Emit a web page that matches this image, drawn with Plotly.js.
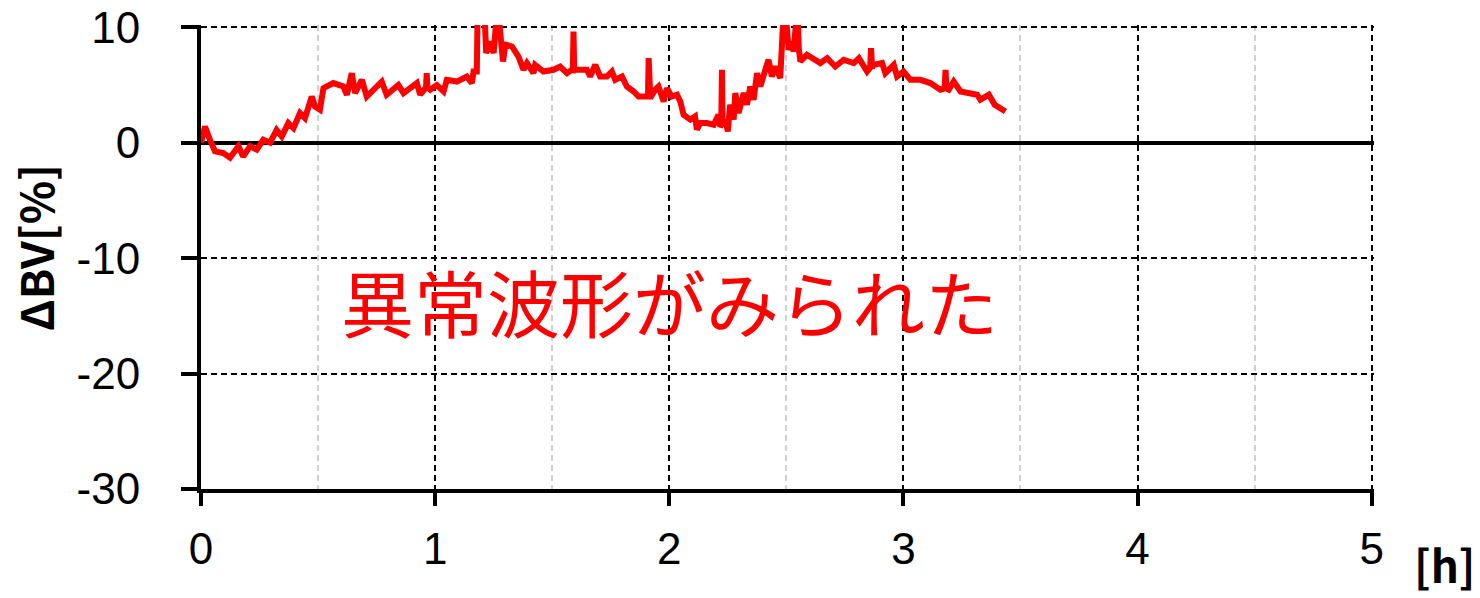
<!DOCTYPE html>
<html>
<head>
<meta charset="utf-8">
<script src="https://cdn.plot.ly/plotly-3.0.1.min.js"></script>
<style>
  html, body { margin: 0; padding: 0; background: #fff; }
  #chart { width: 1480px; height: 598px; }
</style>
</head>
<body>
<div id="chart"></div>
<script>
// elapsed time [h]
var hours = [
  0, 0.017, 0.038, 0.06, 0.095, 0.124, 0.16, 0.18, 0.21, 0.238,
  0.266, 0.295, 0.323, 0.345, 0.373, 0.395, 0.423, 0.444, 0.473, 0.487,
  0.508, 0.523, 0.565, 0.608, 0.623, 0.644, 0.658, 0.687, 0.708, 0.736,
  0.772, 0.793, 0.843, 0.865, 0.922, 0.936, 0.961, 0.964, 0.967, 0.979,
  1.007, 1.036, 1.05, 1.093, 1.135, 1.157, 1.164, 1.178, 1.181, 1.212,
  1.218, 1.235, 1.25, 1.262, 1.272, 1.29, 1.3, 1.328, 1.356, 1.377,
  1.392, 1.42, 1.427, 1.463, 1.506, 1.534, 1.563, 1.584, 1.588, 1.591,
  1.594, 1.605, 1.648, 1.662, 1.684, 1.705, 1.734, 1.755, 1.769, 1.798,
  1.819, 1.848, 1.869, 1.897, 1.909, 1.912, 1.915, 1.919, 1.94, 1.954,
  1.976, 1.99, 2.01, 2.033, 2.047, 2.061, 2.09, 2.11, 2.118, 2.132,
  2.16, 2.19, 2.21, 2.218, 2.222, 2.225, 2.228, 2.24, 2.25, 2.26,
  2.275, 2.282, 2.296, 2.318, 2.332, 2.346, 2.36, 2.375, 2.389, 2.41,
  2.424, 2.438, 2.453, 2.474, 2.482, 2.487, 2.499, 2.51, 2.524, 2.531,
  2.543, 2.549, 2.553, 2.56, 2.588, 2.617, 2.645, 2.674, 2.709, 2.745,
  2.788, 2.81, 2.845, 2.858, 2.862, 2.866, 2.873, 2.909, 2.923, 2.959,
  2.973, 3.001, 3.03, 3.073, 3.115, 3.158, 3.176, 3.18, 3.184, 3.194,
  3.215, 3.244, 3.286, 3.315, 3.329, 3.365, 3.39, 3.415, 3.436
];

// ΔBV [%] (values above 10 are cut off by the axis range)
var dbv = [
  0, 1.4, 0.26, -0.75, -0.9, -1.3, -0.3, -1.2, -0.3, -0.6,
  0.26, 0, 1.1, 0.55, 1.7, 1.27, 2.57, 2.14, 4.0, 3.14,
  2.86, 4.73, 5.17, 4.87, 4.16, 6.03, 4.3, 5.45, 4.0, 4.6,
  5.3, 4.16, 5.0, 4.3, 5.17, 4.16, 4.8, 6.03, 4.8, 4.6,
  5.0, 4.44, 5.45, 5.3, 5.74, 5.17, 6.17, 6.17, 10.8, 10.8,
  7.77, 8.77, 7.77, 10.8, 10.8, 7.04, 8.5, 8.34, 7.47, 6.32,
  6.9, 6.03, 6.75, 6.17, 6.32, 6.6, 6.03, 6.32, 6.3, 9.64,
  6.3, 6.32, 6.32, 5.74, 6.75, 5.74, 5.74, 6.17, 5.45, 5.74,
  4.87, 4.44, 4.0, 4.0, 4.0, 7.33, 4.0, 3.87, 4.6, 4.87,
  3.58, 4.73, 4.0, 4.16, 3.58, 2.42, 2.0, 2.28, 1.13, 1.7,
  1.7, 1.56, 2.42, 1.41, 1.5, 6.32, 1.5, 2.0, 0.98, 3.29,
  2.0, 4.3, 2.57, 4.3, 3.29, 4.87, 3.72, 6.03, 4.87, 6.32,
  7.19, 5.74, 6.6, 5.6, 8.9, 10.8, 10.8, 8.05, 8.77, 7.9,
  10.8, 10.8, 8.2, 7.04, 7.62, 7.19, 6.9, 7.33, 6.6, 7.19,
  6.9, 7.33, 6.17, 6.5, 8.2, 6.5, 6.75, 6.9, 6.03, 6.75,
  5.74, 6.17, 5.45, 5.45, 5.17, 4.6, 4.7, 6.32, 4.7, 4.6,
  5.3, 4.44, 4.3, 4.16, 3.72, 4.16, 3.29, 3.0, 2.71
];

var xTicks = [0, 1, 2, 3, 4, 5];
var yTicks = [-30, -20, -10, 0, 10];
var note = '異常波形がみられた';

var fontFamily = '"Noto Sans CJK JP", "Noto Sans", sans-serif';
var tickFamily = '"Liberation Sans", sans-serif';

var trace = {
    x: hours,
    y: dbv,
    type: 'scatter',
    mode: 'lines',
    line: {color: '#ff0000', width: 6},
    hoverinfo: 'skip',
    showlegend: false
};

var layout = {
    width: 1480,
    height: 598,
    // ranges overshoot a little so the gridlines at x=5 and y=10 are kept
    margin: {l: 201, r: 106, t: 25, b: 109, pad: 0},
    paper_bgcolor: '#ffffff',
    plot_bgcolor: '#ffffff',
    font: {family: fontFamily, color: '#000000', size: 44},
    xaxis: {
        range: [0, 5.01],
        tickmode: 'array',
        tickvals: xTicks,
        ticktext: xTicks.map(String),
        tickfont: {family: tickFamily, size: 44, color: '#000000'},
        showline: true,
        linecolor: '#000000',
        linewidth: 4,
        ticks: 'outside',
        ticklen: 13,
        tickwidth: 4,
        tickcolor: '#000000',
        ticklabelstandoff: 5,
        ticklabeloverflow: 'allow',
        showgrid: true,
        gridcolor: '#000000',
        gridwidth: 2,
        griddash: '6px,4px',
        zeroline: false,
        minor: {
            dtick: 0.5,
            showgrid: true,
            gridcolor: '#d0d0d0',
            gridwidth: 2,
            griddash: '6px,4px',
            ticks: ''
        },
        fixedrange: true
    },
    yaxis: {
        range: [-30, 10.2],
        tickmode: 'array',
        tickvals: yTicks,
        ticktext: yTicks.map(String),
        tickfont: {family: tickFamily, size: 44, color: '#000000'},
        showline: true,
        linecolor: '#000000',
        linewidth: 4,
        ticks: 'outside',
        ticklen: 16,
        tickwidth: 4,
        tickcolor: '#000000',
        ticklabelstandoff: 32,
        ticklabeloverflow: 'allow',
        showgrid: true,
        gridcolor: '#000000',
        gridwidth: 2,
        griddash: '6px,4px',
        zeroline: true,
        zerolinecolor: '#000000',
        zerolinewidth: 4,
        fixedrange: true
    },
    annotations: [
        {
            x: 2.0, y: -13.6, xref: 'x', yref: 'y',
            text: note, showarrow: false,
            xanchor: 'center', yanchor: 'middle',
            font: {family: fontFamily, size: 73, color: '#ff0000'}
        },
        {
            x: -0.142, y: 0.52, xref: 'paper', yref: 'paper',
            text: '<b>ΔBV[%]</b>', showarrow: false, textangle: -90,
            xanchor: 'center', yanchor: 'middle',
            font: {family: fontFamily, size: 45, color: '#000000'}
        },
        {
            x: 1.06, y: -0.235, xref: 'paper', yref: 'paper',
            text: '<b>[h]</b>', showarrow: false,
            xanchor: 'center', yanchor: 'bottom',
            font: {family: fontFamily, size: 44, color: '#000000'}
        }
    ]
};

Plotly.newPlot('chart', [trace], layout, {displayModeBar: false, staticPlot: true});
</script>
</body>
</html>
